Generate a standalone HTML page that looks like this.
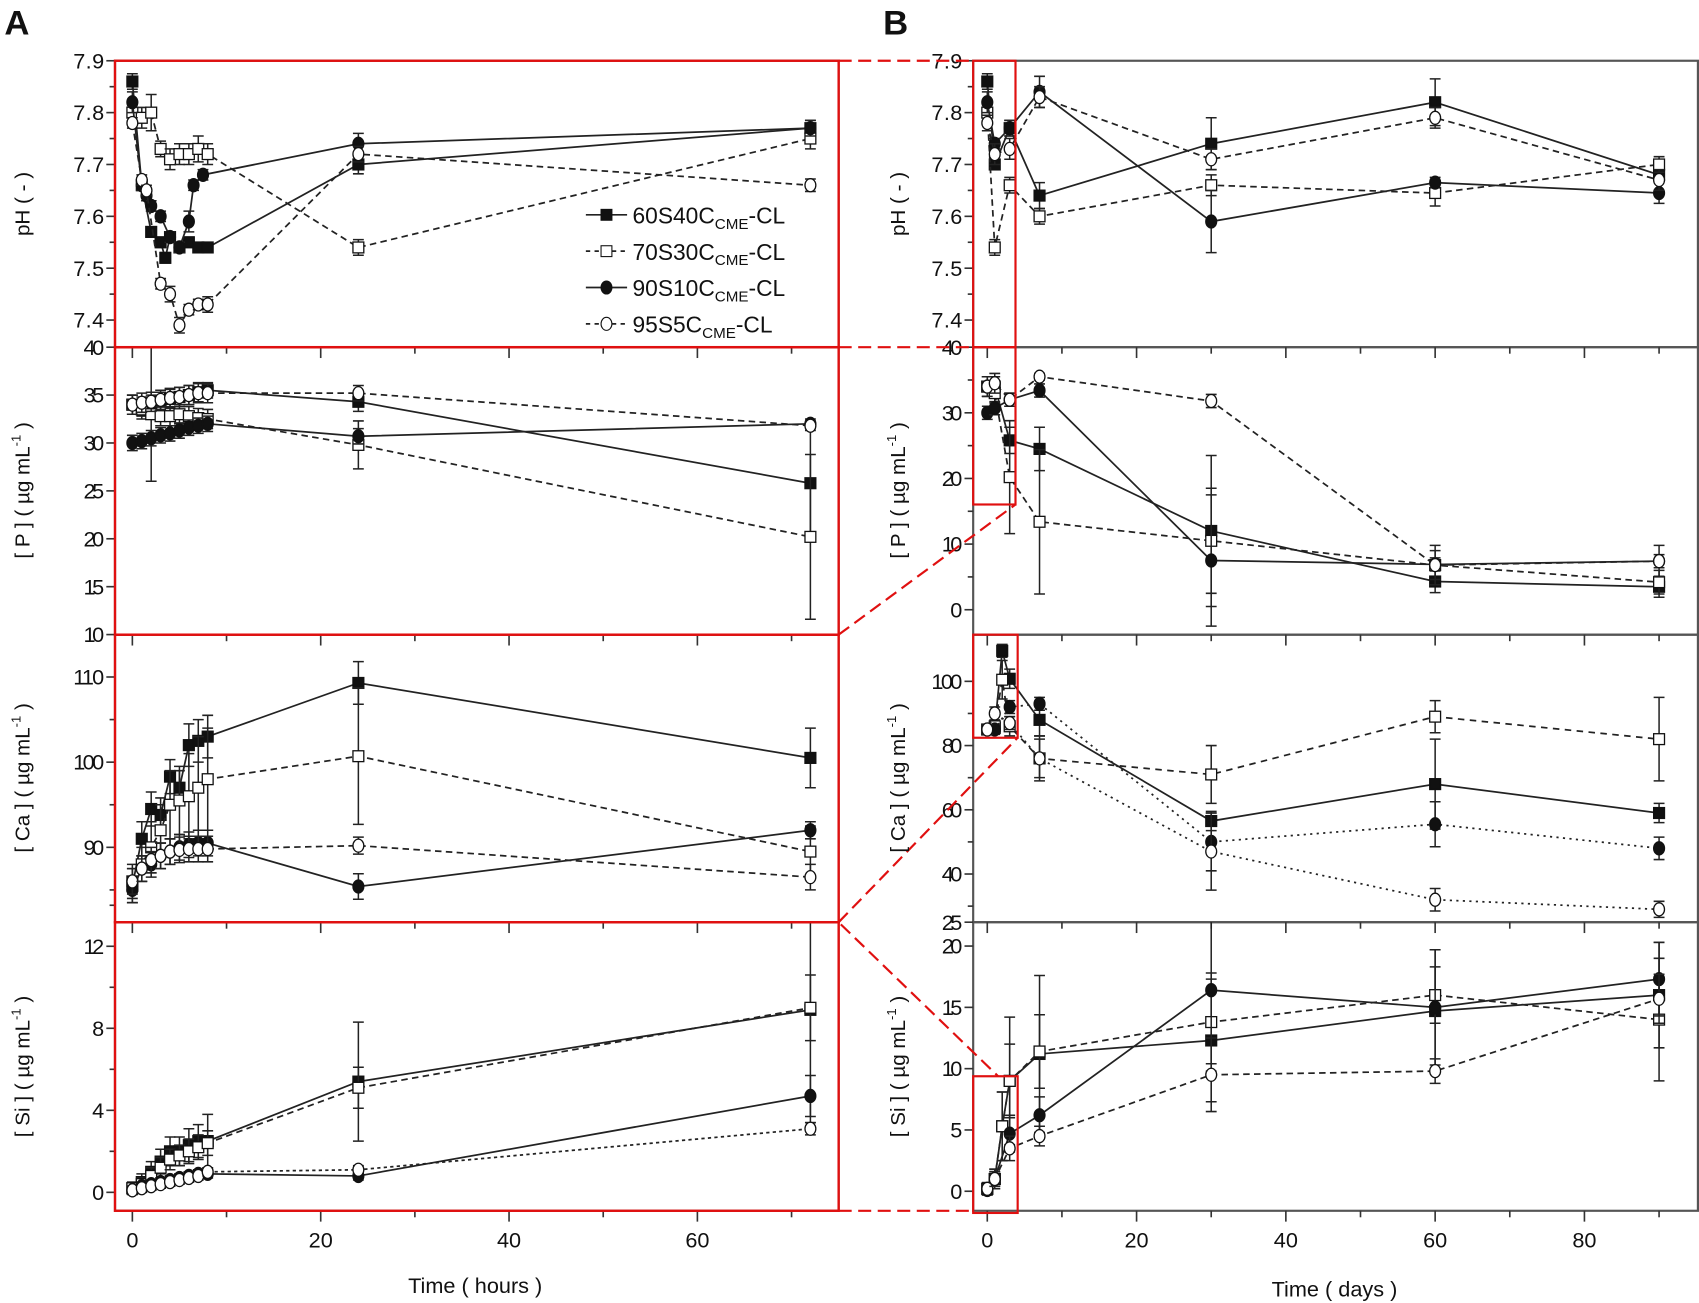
<!DOCTYPE html>
<html><head><meta charset="utf-8"><style>
html,body{margin:0;padding:0;background:#fff;}
svg{display:block;}
text{font-family:"Liberation Sans",sans-serif;fill:#111;}
</style></head><body>
<svg id="s" width="1699" height="1303" viewBox="0 0 1566 1201" preserveAspectRatio="none" xmlns="http://www.w3.org/2000/svg"></svg>
<script>
const S=document.getElementById('s');let h='';
const fx=v=>122+8.68*v, gx=v=>910+6.88*v;
const P={pH:v=>56+(7.9-v)*478,PL:v=>320+(40-v)*8.83,CaL:v=>624+(110-v)*7.85,SiL:v=>1099-v*18.9,
PR:v=>562-v*6.05,CaR:v=>628+(100-v)*2.96,SiR:v=>1098-v*11.3};
function clip(id,x0,y0,x1,y1){h+=`<clipPath id="${id}"><rect x="${x0}" y="${y0}" width="${x1-x0}" height="${y1-y0}"/></clipPath>`;}
h+='<defs>';
[['c1',106,56,773,320],['c2',106,320,773,585],['c3',106,585,773,850],['c4',106,850,773,1116],
['d1',897,56,1565,320],['d2',897,320,1565,585],['d3',897,585,1565,850],['d4',897,850,1565,1116]].forEach(a=>clip(...a));
h+='</defs>';
function series(cid,X,Y,xs,ys,mk,dash,err){
 let pts=xs.map((x,i)=>[X(x),Y(ys[i])]);
 let g=`<g clip-path="url(#${cid})">`;
 g+=`<polyline points="${pts.map(p=>p.join(',')).join(' ')}" fill="none" stroke="#222" stroke-width="1.6" ${dash?`stroke-dasharray="${dash}"`:''}/>`;
 pts.forEach((p,i)=>{const e=err?err[i]:0; if(e){const a=Y(ys[i]+e),b=Y(ys[i]-e);
   g+=`<path d="M${p[0]},${a}V${b}M${p[0]-5},${a}h10M${p[0]-5},${b}h10" stroke="#222" stroke-width="1.4" fill="none"/>`;}
   const f=mk[0]=='f'?'#111':'#fff';
   if(mk[1]=='s')g+=`<rect x="${p[0]-5}" y="${p[1]-5}" width="10" height="10" fill="${f}" stroke="#111" stroke-width="1.2"/>`;
   else g+=`<ellipse cx="${p[0]}" cy="${p[1]}" rx="5" ry="6" fill="${f}" stroke="#111" stroke-width="1.2"/>`;});
 h+=g+'</g>';}
const hh=[0,1,2,3,4,5,6,7,8];
// frames
function frame(x0,x1){[56,320,585,850].forEach((y,i)=>{h+=`<rect x="${x0}" y="${y}" width="${x1-x0}" height="${[264,265,265,266][i]}" fill="none" stroke="#555" stroke-width="2"/>`;});}
frame(106,773);frame(897,1565);
// ticks
function xt(X,vals,minor){[320,585,850].forEach(y=>{vals.forEach(v=>h+=`<path d="M${X(v)},${y}v10" stroke="#333" stroke-width="1.5"/>`);minor.forEach(v=>h+=`<path d="M${X(v)},${y}v6" stroke="#333" stroke-width="1.5"/>`);});
 vals.forEach(v=>{h+=`<path d="M${X(v)},1116v10" stroke="#333" stroke-width="1.5"/><text x="${X(v)}" y="1150" font-size="20" text-anchor="middle">${v}</text>`});
 minor.forEach(v=>h+=`<path d="M${X(v)},1116v6" stroke="#333" stroke-width="1.5"/>`);}
xt(fx,[0,20,40,60],[10,30,50,70]);xt(gx,[0,20,40,60,80],[10,30,50,70,90]);
function yt(x,Y,vals,lab,minor){vals.forEach((v,i)=>{const y=Y(v);h+=`<path d="M${x},${y}h-8" stroke="#333" stroke-width="1.5"/><text x="${x-10}" y="${y+7}" font-size="20" text-anchor="end" textLength="${lab[i].length*9.5}">${lab[i]}</text>`});
 (minor||[]).forEach(v=>h+=`<path d="M${x},${Y(v)}h-5" stroke="#333" stroke-width="1.5"/>`);}
yt(106,P.pH,[7.9,7.8,7.7,7.6,7.5,7.4],['7.9','7.8','7.7','7.6','7.5','7.4'],[7.85,7.75,7.65,7.55,7.45]);
yt(106,P.PL,[40,35,30,25,20,15,10],['40','35','30','25','20','15','10']);
yt(106,P.CaL,[110,100,90],['110','100','90'],[105,95,85]);
yt(106,P.SiL,[12,8,4,0],['12','8','4','0'],[14,10,6,2]);
yt(897,P.pH,[7.9,7.8,7.7,7.6,7.5,7.4],['7.9','7.8','7.7','7.6','7.5','7.4'],[7.85,7.75,7.65,7.55,7.45]);
yt(897,P.PR,[40,30,20,10,0],['40','30','20','10','0'],[35,25,15,5]);
yt(897,P.CaR,[100,80,60,40,25],['100','80','60','40','25'],[90,70,50,30]);
yt(897,P.SiR,[20,15,10,5,0],['20','15','10','5','0']);
// left pH
series('c1',fx,P.pH,[0,1,2,3,3.5,4,5,6,7,8,24,72],[7.86,7.66,7.57,7.55,7.52,7.56,7.54,7.55,7.54,7.54,7.70,7.77],'fs','',[.015,.01,.01,.01,.01,.01,.01,.01,.01,.01,.018,.015]);
series('c1',fx,P.pH,[0,1,2,3,4,5,6,7,8,24,72],[7.80,7.79,7.80,7.73,7.71,7.72,7.72,7.73,7.72,7.54,7.75],'os','6,4',[.015,.02,.035,.015,.02,.02,.02,.025,.02,.015,.02]);
series('c1',fx,P.pH,[0,1,1.5,2,3,4,5,6,6.5,7.5,24,72],[7.82,7.66,7.64,7.62,7.60,7.56,7.54,7.59,7.66,7.68,7.74,7.77],'fc','',[.02,.01,.01,.01,.01,.01,.01,.02,.01,.01,.02,.015]);
series('c1',fx,P.pH,[0,1,1.5,3,4,5,6,7,8,24,72],[7.78,7.67,7.65,7.47,7.45,7.39,7.42,7.43,7.43,7.72,7.66],'oc','6,4',[.01,.01,.01,.01,.015,.015,.01,.01,.015,.015,.012]);
// left P
series('c2',fx,P.PL,[0,1,2,3,4,5,6,7,8,24,72],[34,33.8,34,34.3,34.6,34.8,35,35.3,35.5,34.3,25.8],'fs','',[1,1,1,1,1,1,1,1,.8,1,6]);
series('c2',fx,P.PL,[0,1,2,3,4,5,6,7,8,24,72],[34,33.5,33,32.8,32.8,33,32.8,32.6,32.5,29.8,20.2],'os','6,4',[1,1,7,1,1,1,1,1,1,2.5,8.6]);
series('c2',fx,P.PL,[0,1,2,3,4,5,6,7,8,24,72],[30,30.2,30.5,30.8,31,31.3,31.6,31.8,32,30.7,32],'fc','',[.8,.8,.8,.8,.8,.8,.8,.8,.8,.8,.5]);
series('c2',fx,P.PL,[0,1,2,3,4,5,6,7,8,24,72],[34,34.2,34.3,34.5,34.7,34.8,35,35.2,35.2,35.2,31.8],'oc','6,4',[1,1,1,1,1,1,1,1,1,.8,.5]);
// left Ca
series('c3',fx,P.CaL,[0,1,2,3,4,5,6,7,8,24,72],[85.5,91,94.5,93.8,98.3,97,102,102.5,103,109.3,100.5],'fs','',[2,2,2,2,2,2,2.5,2.5,2.5,2.5,3.5]);
series('c3',fx,P.CaL,[0,1,2,3,4,5,6,7,8,24,72],[86,88,90,92,95,95.5,96,97,98,100.7,89.5],'os','6,4',[2,2,3,3,4,4,5,6,6,8,3]);
series('c3',fx,P.CaL,[0,1,2,3,4,5,6,7,8,24,72],[85,87.5,88,89,89.5,90,90.3,90.5,90.5,85.4,92],'fc','',[1.5,1.5,1.5,1.5,1.5,1.5,1.5,1.5,1.5,1.5,1]);
series('c3',fx,P.CaL,[0,1,2,3,4,5,6,7,8,24,72],[86,87.5,88.5,89,89.5,89.7,89.8,89.8,89.8,90.2,86.5],'oc','6,4',[1.5,1.5,1.5,1.5,1.5,1.5,1.5,1.5,1.5,1,1.5]);
// left Si
series('c4',fx,P.SiL,[0,1,2,3,4,5,6,7,8,24,72],[0.2,0.5,1,1.5,2,2,2.3,2.5,2.5,5.4,8.9],'fs','',[.3,.4,.5,.6,.7,.7,.8,.8,1.3,2.9,5.5]);
series('c4',fx,P.SiL,[0,1,2,3,4,5,6,7,8,24,72],[0.2,0.4,0.8,1.2,1.6,1.8,2,2.2,2.4,5.1,9.0],'os','6,4',[.3,.3,.4,.5,.5,.5,.6,.6,.6,1,1.6]);
series('c4',fx,P.SiL,[0,1,2,3,4,5,6,7,8,24,72],[0.1,0.3,0.4,0.5,0.6,0.7,0.8,0.9,0.9,0.8,4.7],'fc','',[.2,.2,.2,.2,.2,.2,.2,.2,.2,.2,1]);
series('c4',fx,P.SiL,[0,1,2,3,4,5,6,7,8,24,72],[0.1,0.2,0.3,0.4,0.5,0.6,0.7,0.8,1.0,1.1,3.1],'oc','3,3',[.2,.2,.2,.2,.2,.2,.2,.2,.2,.2,.3]);
// right pH
const dd=[0,1,3,7,30,60,90];
series('d1',gx,P.pH,dd,[7.86,7.70,7.77,7.64,7.74,7.82,7.68],'fs','',[.015,.01,.015,.025,.05,.045,.03]);
series('d1',gx,P.pH,dd,[7.80,7.54,7.66,7.60,7.66,7.645,7.70],'os','6,4',[.015,.015,.015,.015,.02,.025,.015]);
series('d1',gx,P.pH,dd,[7.82,7.74,7.77,7.84,7.59,7.665,7.645],'fc','',[.02,.01,.015,.03,.06,.01,.02]);
series('d1',gx,P.pH,dd,[7.78,7.72,7.73,7.83,7.71,7.79,7.67],'oc','6,4',[.015,.02,.02,.02,.02,.02,.02]);
// right P
series('d2',gx,P.PR,dd,[34,34,25.8,24.5,12,4.3,3.5],'fs','',[1.5,1.5,2,3.3,11.5,1.7,1.6]);
series('d2',gx,P.PR,dd,[34,33,20.2,13.4,10.5,6.8,4.2],'os','6,4',[1.5,1.5,8.6,11,8,2.2,1.8]);
series('d2',gx,P.PR,dd,[30,30.7,32,33.4,7.5,6.9,7.4],'fc','',[1,1,1,1,10,1,1]);
series('d2',gx,P.PR,dd,[34,34.5,32,35.5,31.8,6.8,7.4],'oc','6,4',[1.5,1.5,1,.5,1,3,2.4]);
// right Ca
const d8=[0,1,2,3,7,30,60,90];
series('d3',gx,P.CaR,d8,[85,85.5,109.5,100.8,88,56.5,68,59],'fs','',[1.5,1.5,2,3,5,3,14,3]);
series('d3',gx,P.CaR,d8,[85,86,100.5,86,76,71,89,82],'os','6,5',[1.5,1.5,6,3,6,9,5,13]);
series('d3',gx,P.CaR,[0,1,3,7,30,60,90],[85,85,92,93,50,55.5,48],'fc','2,4',[1.5,1.5,2,2,9,7,3.5]);
series('d3',gx,P.CaR,[0,1,3,7,30,60,90],[85,90,87,76,47,32,29],'oc','2,4',[1.5,2,2,7,12,3.5,2.5]);
// right Si
series('d4',gx,P.SiR,d8,[0.2,1,5.3,9,11.2,12.3,14.7,16],'fs','',[.5,.8,2.8,5.2,6.4,5,5,4.3]);
series('d4',gx,P.SiR,d8,[0.2,1,5.3,9,11.4,13.8,16,14],'os','6,4',[.5,.8,2.8,3,3,4,2.3,5]);
series('d4',gx,P.SiR,dd,[0.1,1,4.7,6.2,16.4,15,17.3],'fc','',[.3,.6,1.5,1.5,6,4.7,3]);
series('d4',gx,P.SiR,dd,[0.2,1,3.5,4.5,9.5,9.8,15.7],'oc','6,4',[.3,.6,1,.8,3,1,2]);
// red overlays
[[56,320],[320,585],[585,850],[850,1116]].forEach(a=>h+=`<rect x="106" y="${a[0]}" width="667" height="${a[1]-a[0]}" fill="none" stroke="#e01010" stroke-width="2.2"/>`);
[[897,56,39,264],[897,320,39,145],[897,585,41,95],[897,992,41,126]].forEach(a=>h+=`<rect x="${a[0]}" y="${a[1]}" width="${a[2]}" height="${a[3]}" fill="none" stroke="#e01010" stroke-width="2"/>`);
[[773,56,897,56],[773,320,897,320],[773,585,936,465],[773,850,938,680],[775,852,920,992],[773,1116,897,1116]].forEach(a=>h+=`<line x1="${a[0]}" y1="${a[1]}" x2="${a[2]}" y2="${a[3]}" stroke="#e01010" stroke-width="2" stroke-dasharray="12,6"/>`);
// legend
const L=[['fs','','60S40'],['os','4,4','70S30'],['fc','','90S10'],['oc','4,4','95S5']];
L.forEach((l,i)=>{const y=198+i*33.5;h+=`<line x1="540" y1="${y}" x2="578" y2="${y}" stroke="#222" stroke-width="1.6" ${l[1]?`stroke-dasharray="${l[1]}"`:''}/>`;
 const f=l[0][0]=='f'?'#111':'#fff';
 h+=l[0][1]=='s'?`<rect x="554" y="${y-5}" width="10" height="10" fill="${f}" stroke="#111"/>`:`<ellipse cx="559" cy="${y}" rx="5" ry="6" fill="${f}" stroke="#111"/>`;
 h+=`<text x="583" y="${y+8}" font-size="21">${l[2]}C<tspan font-size="14" dy="5">CME</tspan><tspan dy="-5">-CL</tspan></text>`;});
// labels
function yl(x,y,t){h+=`<text transform="translate(${x},${y}) rotate(-90)" font-size="19" text-anchor="middle">${t}</text>`;}
const u='( µg mL<tspan font-size="12" dy="-8">-1</tspan><tspan dy="8"> )</tspan>';
yl(27,188,'pH ( - )');yl(27,452,'[ P ] '+u);yl(27,717,'[ Ca ] '+u);yl(27,983,'[ Si ] '+u);
yl(834,188,'pH ( - )');yl(834,452,'[ P ] '+u);yl(834,717,'[ Ca ] '+u);yl(834,983,'[ Si ] '+u);
h+=`<text x="438" y="1192" font-size="20" text-anchor="middle">Time ( hours )</text><text x="1230" y="1195" font-size="20" text-anchor="middle">Time ( days )</text>`;
h+=`<text x="4" y="32" font-size="32" font-weight="bold">A</text><text x="814" y="32" font-size="32" font-weight="bold">B</text>`;
S.innerHTML=h;
</script>
</body></html>
